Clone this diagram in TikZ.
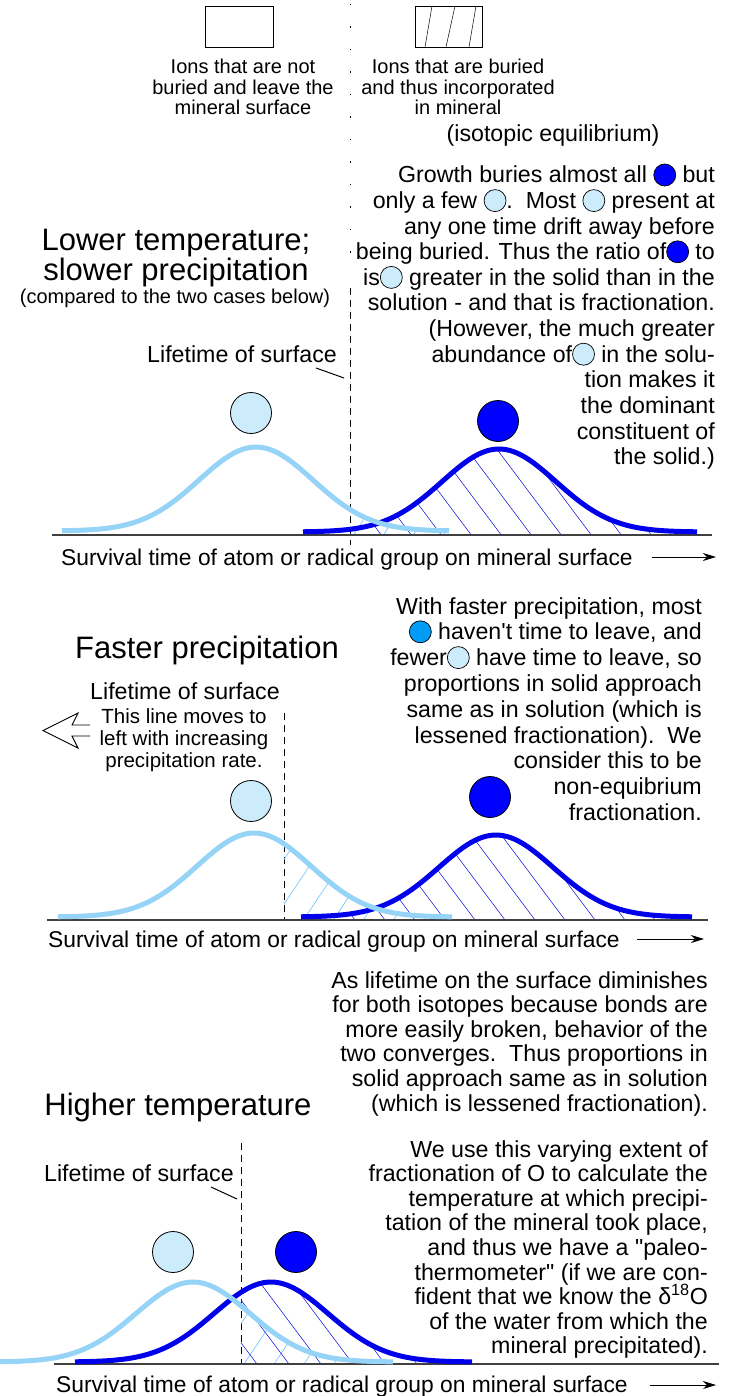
\documentclass[tikz,border=0pt]{standalone}
\usepackage{fontspec}
\setmainfont{Liberation Sans}[Ligatures=TeXOff]
\usetikzlibrary{arrows.meta}
\definecolor{lightcurve}{RGB}{150,212,247}
\definecolor{darkcurve}{RGB}{0,0,235}
\definecolor{lightball}{RGB}{204,236,252}
\definecolor{darkball}{RGB}{0,0,255}
\definecolor{midball}{RGB}{0,155,245}
\definecolor{lighthatch}{RGB}{110,195,245}
\definecolor{darkhatch}{RGB}{40,40,230}
\newcommand{\inball}[1]{\tikz[x=1pt,y=1pt,baseline={(0pt,-8pt)}]\draw[line width=0.7pt,fill=#1] (0,0) circle (11pt);}
\newcommand{\dkb}{\inball{darkball}}
\newcommand{\ltb}{\inball{lightball}}
\newcommand{\mdb}{\inball{midball}}
\begin{document}
\begin{tikzpicture}[x=1pt,y=-1pt,
 para/.style={font=\fontsize{23.2}{26}\selectfont, inner sep=0pt, anchor=base east},
 lbl/.style={font=\fontsize{23.2}{26}\selectfont, inner sep=0pt},
 axlbl/.style={font=\fontsize{22.8}{26}\selectfont, inner sep=0pt, anchor=base west},
 small/.style={font=\fontsize{20}{22}\selectfont, inner sep=0pt, anchor=base},
 ttl/.style={font=\fontsize{31}{34}\selectfont, inner sep=0pt, anchor=base},
 axisline/.style={line width=1.3pt, black!75},
 axarrow/.style={line width=1pt, -{Stealth[length=13pt,width=8pt,inset=4pt]}},
 lcurve/.style={line width=5pt, lightcurve},
 dcurve/.style={line width=5pt, darkcurve},
 dashv/.style={line width=1pt, dash pattern=on 7pt off 5pt},
 dotv/.style={line width=1pt, dash pattern=on 1.5pt off 21pt},
 ball/.style={circle, draw=black, line width=0.8pt, minimum size=41pt, inner sep=0pt},
 lhatch/.style={lighthatch, line width=0.6pt},
 dhatch/.style={darkhatch, line width=0.6pt},
 tickline/.style={line width=1pt},
 legbox/.style={draw, line width=0.9pt, minimum width=68pt, minimum height=41pt, inner sep=0pt}
]
\fill[white] (0,0) rectangle (732,1396);
\useasboundingbox (0,0) rectangle (732,1396);

% ================= Legend =================
\node[legbox] (box1) at (239,26.5) {};
\node[legbox, minimum width=67pt] (box2) at (448.5,26.5) {};
\draw[line width=0.5pt] (425,47) -- (432,6) (446,47) -- (455,6) (469,47) -- (476,6);
\node[small] (lg1) at (243,74) {Ions that are not};
\node[small] (lg2) at (243,94.5) {buried and leave the};
\node[small] (lg3) at (243,115) {mineral surface};
\node[small] (lg4) at (458,74) {Ions that are buried};
\node[small] (lg5) at (458,94.5) {and thus incorporated};
\node[small] (lg6) at (458,115) {in mineral};

% ================= Section 1 =================
\draw[dotv] (350,4) -- (350,262);
\draw[dashv] (350,288) -- (350,545);

\node[lbl, anchor=base] (iso) at (553,142) {(isotopic equilibrium)};
\node[para] (p1a) at (715,183) {Growth buries almost all \dkb{} but};
\node[para] (p1b) at (715,208.6) {only a few \ltb{}.\ \ Most \ltb{} present at};
\node[para] (p1c) at (715,234.2) {any one time drift away before};
\node[para] (p1d) at (715,259.8) {being buried. Thus the ratio of\dkb{} to};
\node[para] (p1e) at (715,285.4) {is\ltb{} greater in the solid than in the};
\node[para] (p1f) at (715,311) {solution - and that is fractionation.};
\node[para] (p1g) at (715,336.6) {(However, the much greater};
\node[para] (p1h) at (715,362.2) {abundance of\ltb{} in the solu-};
\node[para] (p1i) at (715,387.8) {tion makes it};
\node[para] (p1j) at (715,413.4) {the dominant};
\node[para] (p1k) at (715,439) {constituent of};
\node[para] (p1l) at (715,464.6) {the solid.)};

\node[ttl] (t1a) at (176,251) {Lower temperature;};
\node[ttl] (t1b) at (176,281) {slower precipitation};
\node[small] (t1c) at (175,304) {(compared to the two cases below)};

\node[lbl, anchor=base east] (life1) at (337,362) {Lifetime of surface};
\coordinate (k1a) at (316,368);
\coordinate (k1b) at (344,378);
\draw[tickline] (k1a) -- (k1b);

% hatching section 1
\begin{scope}
 \clip (350,380) rectangle (740,540);
 \clip (62,535) -- plot[domain=62:449,samples=80] (\x,{531-84*exp(-((\x-256)/57)^2/2)}) -- (449,535) -- cycle;
 \foreach \a in {290,320,...,470} \draw[lhatch] (\a,540) -- ++(60,-90);
\end{scope}
\begin{scope}
 \clip (350,380) rectangle (740,540);
 \clip (303,535) -- plot[domain=303:697,samples=80] (\x,{532-83*exp(-((\x-499)/57)^2/2)}) -- (697,535) -- cycle;
 \foreach \a in {280,310,...,700} \draw[dhatch] (\a,440) -- ++(75,100);
\end{scope}

\draw[axisline] (52,535) -- (712,535);
\draw[dcurve] plot[domain=303:697,samples=100] (\x,{532-83*exp(-((\x-499)/57)^2/2)});
\draw[lcurve] plot[domain=62:449,samples=100] (\x,{531-84*exp(-((\x-256)/57)^2/2)});

\node[ball, fill=lightball] (c1l) at (251,413) {};
\node[ball, fill=darkball] (c1d) at (498,421) {};

\node[axlbl] (ax1) at (61,565) {Survival time of atom or radical group on mineral surface};
\coordinate (a1s) at (652,557);
\coordinate (a1e) at (716,557);
\draw[axarrow] (a1s) -- (a1e);

% ================= Section 2 =================
\node[ttl] (t2) at (207,658) {Faster precipitation};
\node[lbl, anchor=base] (life2) at (185,699) {Lifetime of surface};
\node[small, font=\fontsize{20.5}{22}\selectfont] (mv1) at (184,723) {This line moves to};
\node[small, font=\fontsize{20.5}{22}\selectfont] (mv2) at (184,745) {left with increasing};
\node[small, font=\fontsize{20.5}{22}\selectfont] (mv3) at (184,767) {precipitation rate.};
\draw[line width=0.9pt] (90,725) -- (72,725) -- (78,713) -- (43,730.5) -- (78,748) -- (72,736) -- (90,736);

\node[para] (p2a) at (702,614) {With faster precipitation, most};
\node[para] (p2b) at (702,639.8) {\mdb{} haven\textquotesingle t time to leave, and};
\node[para] (p2c) at (702,665.6) {fewer\ltb{} have time to leave, so};
\node[para] (p2d) at (702,691.4) {proportions in solid approach};
\node[para] (p2e) at (702,717.2) {same as in solution (which is};
\node[para] (p2f) at (702,743) {lessened fractionation).\ \ We};
\node[para] (p2g) at (702,768.8) {consider this to be};
\node[para] (p2h) at (702,794.6) {non-equibrium};
\node[para] (p2i) at (702,820.4) {fractionation.};

\draw[dashv] (284,713) -- (284,920);

\begin{scope}
 \clip (284,780) rectangle (740,925);
 \clip (58,920) -- plot[domain=58:452,samples=80] (\x,{917-84*exp(-((\x-254)/57)^2/2)}) -- (452,920) -- cycle;
 \foreach \a in {240,270,...,470} \draw[lhatch] (\a,925) -- ++(65,-97);
\end{scope}
\begin{scope}
 \clip (284,780) rectangle (740,925);
 \clip (301,920) -- plot[domain=301:692,samples=80] (\x,{917-82*exp(-((\x-496)/57)^2/2)}) -- (692,920) -- cycle;
 \foreach \a in {220,250,...,700} \draw[dhatch] (\a,820) -- ++(75,100);
\end{scope}

\draw[axisline] (47,920) -- (708,920);
\draw[dcurve] plot[domain=301:692,samples=100] (\x,{917-82*exp(-((\x-496)/57)^2/2)});
\draw[lcurve] plot[domain=58:452,samples=100] (\x,{917-84*exp(-((\x-254)/57)^2/2)});

\node[ball, fill=lightball] (c2l) at (251,801) {};
\node[ball, fill=darkball] (c2d) at (490,797) {};

\node[axlbl] (ax2) at (48,947) {Survival time of atom or radical group on mineral surface};
\coordinate (a2s) at (637,939);
\coordinate (a2e) at (704,939);
\draw[axarrow] (a2s) -- (a2e);

% ================= Section 3 =================
\node[para] (p3a) at (708,988) {As lifetime on the surface diminishes};
\node[para] (p3b) at (708,1012.6) {for both isotopes because bonds are};
\node[para] (p3c) at (708,1037.2) {more easily broken, behavior of the};
\node[para] (p3d) at (708,1061.8) {two converges.\ \ Thus proportions in};
\node[para] (p3e) at (708,1086.4) {solid approach same as in solution};
\node[para] (p3f) at (708,1111) {(which is lessened fractionation).};
\node[para] (p3g) at (708,1157) {We use this varying extent of};
\node[para] (p3h) at (708,1181.6) {fractionation of O to calculate the};
\node[para] (p3i) at (708,1206.2) {temperature at which precipi-};
\node[para] (p3j) at (708,1230.8) {tation of the mineral took place,};
\node[para] (p3k) at (708,1255.4) {and thus we have a "paleo-};
\node[para] (p3l) at (708,1280) {thermometer" (if we are con-};
\node[para] (p3m) at (708,1304.6) {fident that we know the δ\textsuperscript{18}O};
\node[para] (p3n) at (708,1329.2) {of the water from which the};
\node[para] (p3o) at (708,1353.8) {mineral precipitated).};

\node[ttl] (t3) at (178,1115) {Higher temperature};
\node[lbl, anchor=base west] (life3) at (44,1181) {Lifetime of surface};
\coordinate (k3a) at (211,1187);
\coordinate (k3b) at (237,1199);
\draw[tickline] (k3a) -- (k3b);

\draw[dashv] (241,1143) -- (241,1364);

\begin{scope}
 \clip (241,1200) rectangle (740,1370);
 \clip (0,1364) -- plot[domain=0:393,samples=80] (\x,{1362-80*exp(-((\x-193)/57)^2/2)}) -- (393,1364) -- cycle;
 \foreach \a in {180,210,...,420} \draw[lhatch] (\a,1370) -- ++(65,-97);
\end{scope}
\begin{scope}
 \clip (241,1200) rectangle (740,1370);
 \clip (75,1364) -- plot[domain=75:472,samples=80] (\x,{1362-80*exp(-((\x-271)/57)^2/2)}) -- (472,1364) -- cycle;
 \foreach \a in {150,182,...,480} \draw[dhatch] (\a,1264) -- ++(75,100);
\end{scope}

\draw[axisline] (54,1364) -- (719,1364);
\draw[dcurve] plot[domain=75:472,samples=100] (\x,{1362-80*exp(-((\x-271)/57)^2/2)});
\draw[lcurve] plot[domain=0:393,samples=100] (\x,{1362-80*exp(-((\x-193)/57)^2/2)});

\node[ball, fill=lightball] (c3l) at (173,1252) {};
\node[ball, fill=darkball] (c3d) at (296,1252) {};

\node[axlbl] (ax3) at (56,1392) {Survival time of atom or radical group on mineral surface};
\coordinate (a3s) at (650,1385);
\coordinate (a3e) at (716,1385);
\draw[axarrow] (a3s) -- (a3e);
\end{tikzpicture}
\end{document}
